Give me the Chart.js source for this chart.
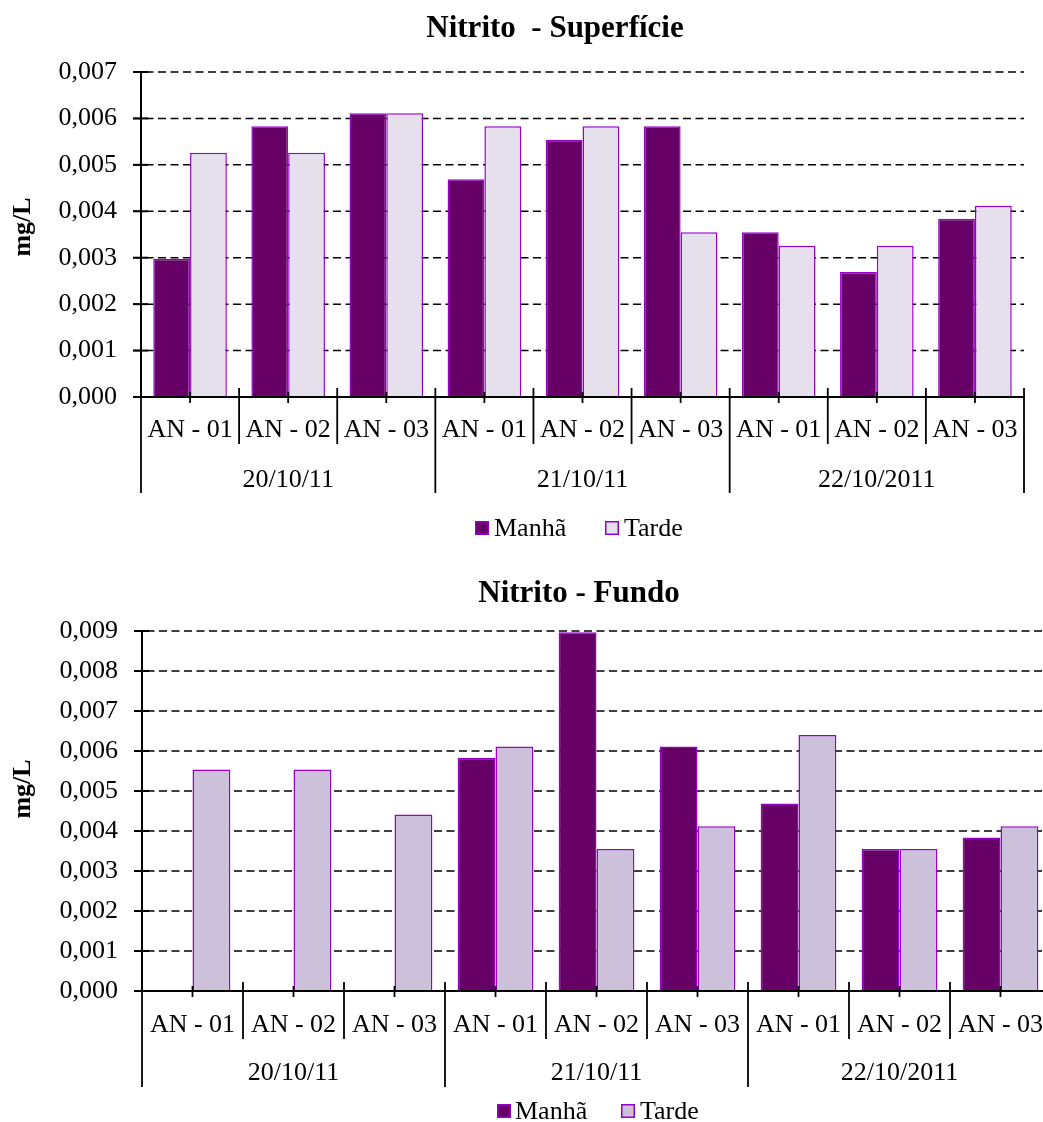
<!DOCTYPE html>
<html>
<head>
<meta charset="utf-8">
<script src="https://cdn.jsdelivr.net/npm/chart.js@4.4.1/dist/chart.umd.min.js"></script>
<style>
  html, body { margin: 0; padding: 0; background: #fff; overflow: hidden; width: 1043px; height: 1122px; }
  canvas { position: absolute; left: 0; }
  #sup { top: 0; }
  #fun { top: 560px; }
</style>
</head>
<body>
<canvas id="sup" width="1043" height="560"></canvas>
<canvas id="fun" width="1070" height="562"></canvas>
<script>
// Sampling points and dates (three stations per day)
const stations = ['AN - 01', 'AN - 02', 'AN - 03', 'AN - 01', 'AN - 02', 'AN - 03', 'AN - 01', 'AN - 02', 'AN - 03'];
const dates = ['20/10/11', '21/10/11', '22/10/2011'];
const seriesNames = ['Manhã', 'Tarde'];

// Nitrite (mg/L) at the surface
const superficieManha = [0.00298, 0.00583, 0.00611, 0.00469, 0.00554, 0.00583, 0.00355, 0.00269, 0.00384];
const superficieTarde = [0.00526, 0.00526, 0.00611, 0.00583, 0.00583, 0.00355, 0.00326, 0.00326, 0.00412];

// Nitrite (mg/L) at the bottom (no morning samples on 20/10/11)
const fundoManha = [null, null, null, 0.00583, 0.00897, 0.00611, 0.00469, 0.00355, 0.00384];
const fundoTarde = [0.00554, 0.00554, 0.00441, 0.00611, 0.00355, 0.00412, 0.00640, 0.00355, 0.00412];

// Value axes
const superficieYMax = 0.007;
const fundoYMax = 0.009;
const yStep = 0.001;

const SERIF = '"Liberation Serif", "Times New Roman", Times, serif';
Chart.defaults.font.family = SERIF;
Chart.defaults.color = '#000';

const MANHA_FILL = '#660066';
const BAR_EDGE = '#9900CC';

function fmt(v) { return v.toFixed(3).replace('.', ','); }

// Draws dashed gridlines, cross ticks, two-level category axis, titles and legend
const decor = {
  id: 'decor',
  beforeDatasetsDraw(chart, args, o) {
    const { ctx, chartArea: a, scales: { y } } = chart;
    ctx.save();
    ctx.strokeStyle = '#000';
    ctx.lineWidth = 1.5;
    ctx.setLineDash([8, 4.5]);
    y.ticks.forEach(t => {
      if (t.value === 0) return;
      const py = y.getPixelForValue(t.value);
      ctx.beginPath();
      ctx.moveTo(a.left - 8, py);
      ctx.lineTo(a.right, py);
      ctx.stroke();
    });
    ctx.restore();
  },
  afterDraw(chart, args, o) {
    const { ctx, chartArea: a, scales: { x, y } } = chart;
    ctx.save();
    ctx.strokeStyle = '#000';
    ctx.fillStyle = '#000';

    // value-axis ticks crossing the axis line
    ctx.lineWidth = 2;
    y.ticks.forEach(t => {
      const py = y.getPixelForValue(t.value);
      ctx.beginPath();
      ctx.moveTo(a.left - 8, py);
      ctx.lineTo(a.left + 7, py);
      ctx.stroke();
    });

    const n = chart.data.labels.length;
    const catW = x.getPixelForValue(1) - x.getPixelForValue(0);

    // category boundaries and group separators
    ctx.lineWidth = 1.8;
    for (let k = 0; k <= n; k++) {
      const bx = x.getPixelForValue(0) - catW / 2 + k * catW;
      ctx.beginPath();
      ctx.moveTo(bx, a.bottom - 9);
      ctx.lineTo(bx, k % 3 === 0 ? o.groupSepBottom : o.catSepBottom);
      ctx.stroke();
    }
    // small ticks at category centres
    for (let i = 0; i < n; i++) {
      const cx = x.getPixelForValue(i);
      ctx.beginPath();
      ctx.moveTo(cx, a.bottom - 5);
      ctx.lineTo(cx, a.bottom + 6);
      ctx.stroke();
    }

    // station labels
    ctx.font = '26px ' + SERIF;
    ctx.textAlign = 'center';
    ctx.textBaseline = 'alphabetic';
    for (let i = 0; i < n; i++) {
      ctx.fillText(chart.data.labels[i], x.getPixelForValue(i), o.catBaseline);
    }
    // date labels
    dates.forEach((d, g) => {
      const gx = (x.getPixelForValue(g * 3) + x.getPixelForValue(g * 3 + 2)) / 2;
      ctx.fillText(d, gx, o.groupBaseline);
    });

    // chart title
    ctx.font = 'bold 31px ' + SERIF;
    ctx.fillText(o.title, o.titleX, o.titleBaseline);

    // value-axis title
    ctx.save();
    ctx.translate(23, o.yTitleY);
    ctx.rotate(-Math.PI / 2);
    ctx.font = 'bold 26px ' + SERIF;
    ctx.textBaseline = 'middle';
    ctx.fillText('mg/L', 0, 0);
    ctx.restore();

    // legend
    ctx.font = '26px ' + SERIF;
    ctx.textAlign = 'left';
    chart.data.datasets.forEach((ds, i) => {
      const it = o.legend[i];
      ctx.fillStyle = ds.backgroundColor;
      ctx.fillRect(it.bx, it.by, 14, 14);
      ctx.strokeStyle = ds.borderColor;
      ctx.lineWidth = 1.5;
      ctx.strokeRect(it.bx + 0.75, it.by + 0.75, 12.5, 12.5);
      ctx.fillStyle = '#000';
      ctx.fillText(ds.label, it.tx, o.legendBaseline);
    });
    ctx.restore();
  }
};

function makeChart(id, manha, tarde, tardeFill, yMax, geom) {
  const canvas = document.getElementById(id);
  return new Chart(canvas, {
    type: 'bar',
    data: {
      labels: stations,
      datasets: [
        { label: seriesNames[0], data: manha, backgroundColor: MANHA_FILL, borderColor: BAR_EDGE, borderWidth: 1.5 },
        { label: seriesNames[1], data: tarde, backgroundColor: tardeFill, borderColor: BAR_EDGE, borderWidth: 1.5 }
      ]
    },
    options: {
      responsive: false,
      animation: false,
      events: [],
      layout: { padding: { top: geom.top, right: geom.right, left: 0, bottom: 0 } },
      datasets: { bar: { categoryPercentage: 0.75, barPercentage: 1.0 } },
      scales: {
        x: {
          type: 'category',
          offset: true,
          grid: { display: false, drawTicks: false },
          ticks: { display: false },
          border: { display: true, color: '#000', width: 2, z: 1 },
          afterFit(s) { s.height = canvas.height - geom.bottom; }
        },
        y: {
          min: 0,
          max: yMax,
          grid: { display: false, drawTicks: false },
          border: { display: true, color: '#000', width: 2, z: 1 },
          ticks: {
            stepSize: yStep,
            padding: 24,
            font: { size: 26, family: SERIF },
            color: '#000',
            callback: v => fmt(v)
          },
          afterFit(s) { s.width = geom.left; }
        }
      },
      plugins: {
        legend: { display: false },
        tooltip: { enabled: false },
        title: { display: false },
        decor: geom.decor
      }
    },
    plugins: [decor]
  });
}

makeChart('sup', superficieManha, superficieTarde, '#E6E0EC', superficieYMax, {
  top: 72, right: 19, left: 141, bottom: 397,
  decor: {
    title: 'Nitrito  - Superfície', titleX: 555, titleBaseline: 37,
    yTitleY: 227,
    catBaseline: 437, groupBaseline: 487,
    catSepBottom: 444, groupSepBottom: 493,
    legendBaseline: 536,
    legend: [{ bx: 475, by: 521, tx: 494 }, { bx: 605, by: 521, tx: 624 }]
  }
});

makeChart('fun', fundoManha, fundoTarde, '#CCC0DA', fundoYMax, {
  top: 71, right: 19, left: 142, bottom: 431,
  decor: {
    title: 'Nitrito - Fundo', titleX: 579, titleBaseline: 42,
    yTitleY: 229,
    catBaseline: 472, groupBaseline: 520,
    catSepBottom: 479, groupSepBottom: 527,
    legendBaseline: 559,
    legend: [{ bx: 497, by: 544, tx: 515 }, { bx: 621, by: 544, tx: 640 }]
  }
});
</script>
</body>
</html>
